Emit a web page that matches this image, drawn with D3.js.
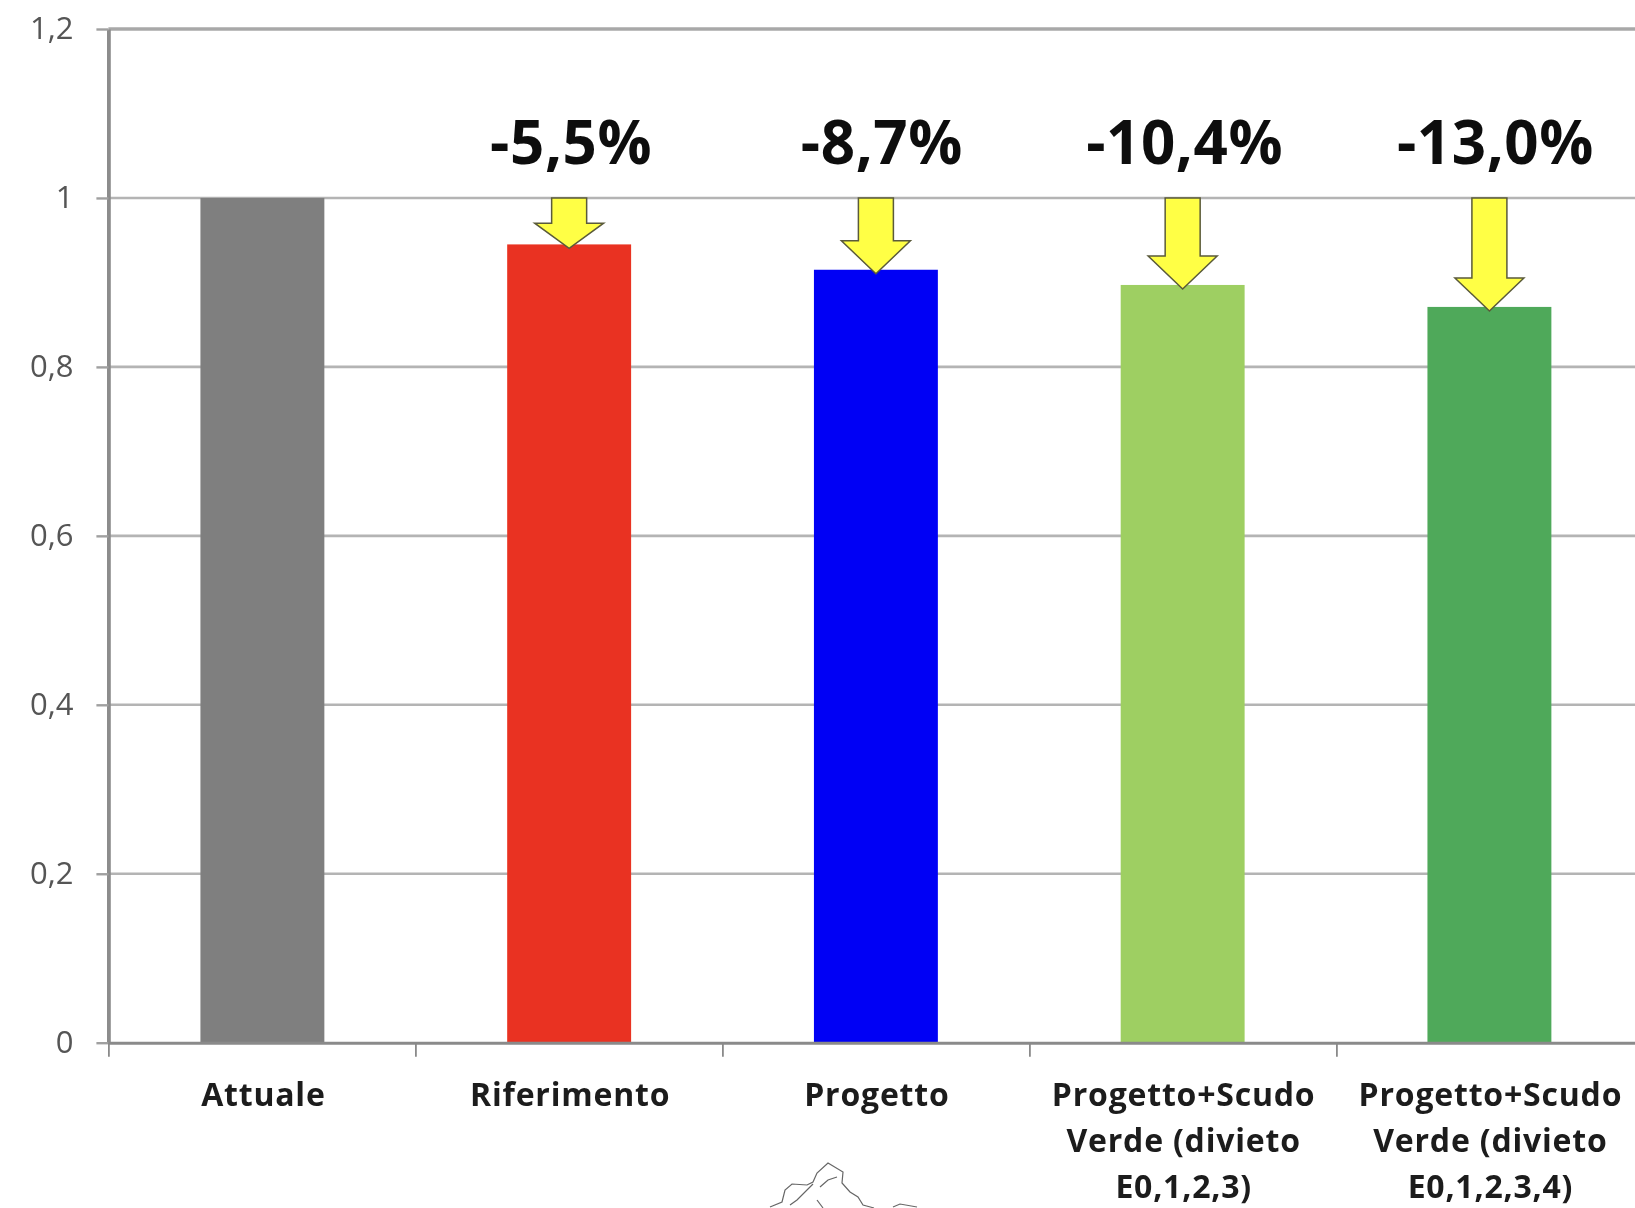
<!DOCTYPE html>
<html><head><meta charset="utf-8">
<script src="https://cdn.jsdelivr.net/npm/d3@7/dist/d3.min.js"></script>
<style>html,body{margin:0;padding:0;background:#fff;overflow:hidden}svg{display:block}</style>
</head><body><div id="chart"></div>
<script>
const categories = ["Attuale","Riferimento","Progetto","Progetto+Scudo Verde (divieto E0,1,2,3)","Progetto+Scudo Verde (divieto E0,1,2,3,4)"];
const categoryLines = [["Attuale"],["Riferimento"],["Progetto"],["Progetto+Scudo","Verde (divieto","E0,1,2,3)"],["Progetto+Scudo","Verde (divieto","E0,1,2,3,4)"]];
const values = [1, 0.945, 0.915, 0.897, 0.871];
const colors = ["#7f7f7f","#e93323","#0000f5","#9ecf62","#4fa95a"];
const changeLabels = [null,"-5,5%","-8,7%","-10,4%","-13,0%"];
const yTicks = [0,0.2,0.4,0.6,0.8,1,1.2];
const yTickLabels = ["0","0,2","0,4","0,6","0,8","1","1,2"];

const W = 1635, H = 1208;
const left = 108.4, top_ = 29, bottom = 1042.7, step = 307;
const labelShift = [0,2,6,2,6];
const svg = d3.select("#chart").append("svg").attr("width",W).attr("height",H);
const defs = svg.append("defs");
defs.append("filter").attr("id","soft").append("feGaussianBlur").attr("stdDeviation",0.7);

const x = d3.scaleBand().domain(categories).range([left,left+step*categories.length]).paddingInner(0.596).paddingOuter(0.3);
const xEdges = d3.scaleLinear().domain([0,categories.length]).range([left,left+step*categories.length]);
const y = d3.scaleLinear().domain([0,1.2]).range([bottom,top_]);
const root = svg.append("g").attr("filter","url(#soft)");

// gridlines
root.append("g").selectAll("line").data(yTicks.filter(d=>d>0)).join("line")
  .attr("x1",left).attr("x2",W).attr("y1",d=>y(d)).attr("y2",d=>y(d))
  .attr("stroke",d=>d===1.2?"#a8a8a8":"#b4b4b4").attr("stroke-width",d=>d===1.2?3.6:2.6);

// bars
root.append("g").selectAll("rect").data(categories).join("rect")
  .attr("x",d=>x(d)).attr("width",x.bandwidth())
  .attr("y",(d,i)=>y(values[i])).attr("height",(d,i)=>y(0)-y(values[i]))
  .attr("fill",(d,i)=>colors[i]);

// axes
const yAxis = d3.axisLeft(y).tickValues(yTicks).tickFormat((d,i)=>yTickLabels[i]).tickSize(12).tickSizeOuter(0);
const gy = root.append("g").attr("transform",`translate(${left},0)`).call(yAxis);
gy.select(".domain").attr("stroke","#8c8c8c").attr("stroke-width",3.8);
gy.selectAll(".tick line").attr("stroke","#a0a0a0").attr("stroke-width",2.4);
gy.selectAll(".tick text").attr("x",-35).attr("dy","0.32em").attr("fill","#555")
  .attr("font-family","'Open Sans'").attr("font-size",31);

const xAxis = d3.axisBottom(xEdges).ticks(categories.length).tickFormat("").tickSize(14).tickSizeOuter(0);
const gx = root.append("g").attr("transform",`translate(0,${bottom})`).call(xAxis);
gx.select(".domain").attr("stroke","#8a8a8a").attr("stroke-width",3);
gx.selectAll(".tick line").attr("stroke","#8a8a8a").attr("stroke-width",1.8);

// category labels
const lab = root.append("g").selectAll("text").data(categories).join("text")
  .attr("x",d=>x(d)+x.bandwidth()/2).attr("text-anchor","middle")
  .attr("font-family","'Open Sans'").attr("font-weight",700).attr("font-size",32)
  .attr("letter-spacing",0.8).attr("fill","#1a1a1a");
lab.each(function(d,i){
  d3.select(this).selectAll("tspan").data(categoryLines[i]).join("tspan")
    .attr("x",x(d)+x.bandwidth()/2+1).attr("y",(l,j)=>1106+j*46).text(l=>l);
});

// arrows
const arrowData = categories.map((c,i)=>({c,i})).filter(d=>changeLabels[d.i]);
root.append("g").selectAll("path").data(arrowData).join("path")
  .attr("d",d=>{
    const cx = x(d.c)+x.bandwidth()/2, t = y(1), tip = y(values[d.i])+4;
    const hh = Math.min(33,(tip-t)*0.5), sw = 17.5, hw = 34.5;
    return d3.line()([[cx-sw,t],[cx+sw,t],[cx+sw,tip-hh],[cx+hw,tip-hh],[cx,tip],[cx-hw,tip-hh],[cx-sw,tip-hh]])+"Z";
  }).attr("fill","#ffff45").attr("stroke","#5a5a3a").attr("stroke-width",1.5);

// percentage labels
root.append("g").selectAll("text").data(arrowData).join("text")
  .attr("x",d=>x(d.c)+x.bandwidth()/2+labelShift[d.i]).attr("y",164).attr("text-anchor","middle")
  .attr("font-family","'Open Sans'").attr("font-weight",700).attr("font-size",60)
  .attr("letter-spacing",0.6).attr("fill","#0a0a0a")
  .text(d=>changeLabels[d.i]);

// map fragment beneath the chart
const mapOutlines = [
 [[770,1207],[782,1202],[785,1190],[792,1184],[807,1185],[813,1182],[817,1173],[828,1163],[843,1172],[842,1183],[850,1192],[858,1197],[863,1205],[874,1208]],
 [[813,1184],[797,1200],[790,1205]],
 [[820,1187],[828,1180],[837,1177]],
 [[817,1200],[823,1208]],
 [[893,1207],[900,1204],[917,1207]]
];
root.append("g").selectAll("path").data(mapOutlines).join("path")
  .attr("d",d3.line()).attr("fill","none").attr("stroke","#666").attr("stroke-width",1.2);
</script></body></html>
